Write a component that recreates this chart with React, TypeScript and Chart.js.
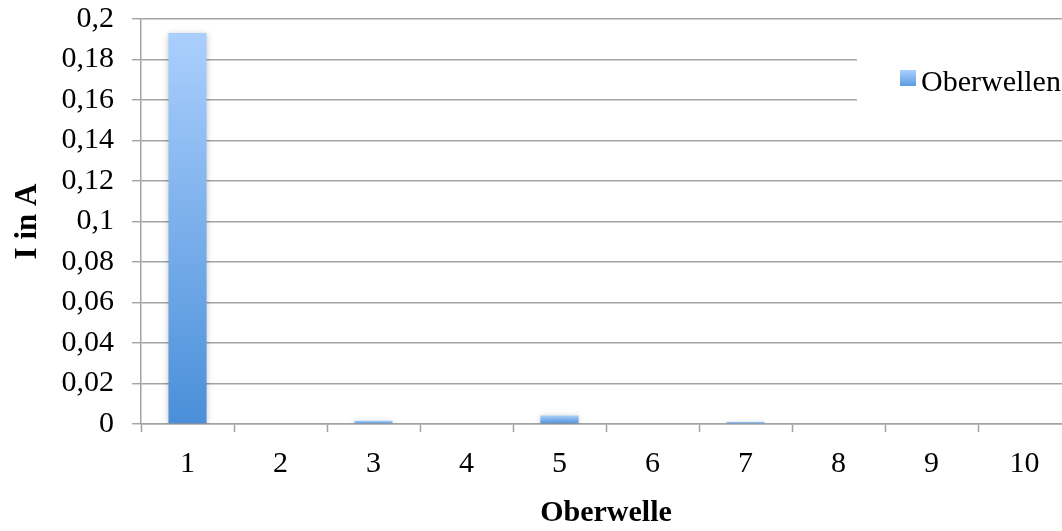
import React, { useEffect, useRef } from "react";
import { Chart, registerables } from "chart.js";

Chart.register(...registerables);

const categories = ["1", "2", "3", "4", "5", "6", "7", "8", "9", "10"];
const seriesLabel = "Oberwellen";
const seriesValues = [0.1931, 0, 0.0016, 0, 0.0042, 0, 0.0011, 0, 0, 0];
const xTitle = "Oberwelle";
const yTitle = "I in A";
const yMin = 0;
const yMax = 0.2;
const yStep = 0.02;

const FONT = "'Liberation Serif', 'Times New Roman', serif";
const GRID = "#a3a3a3";
const BAR_TOP = "#abcffd";
const BAR_BOTTOM = "#4a8fd9";

const shadowPlugin = {
  id: "barShadow",
  beforeDatasetsDraw(chart: any) {
    const c = chart.ctx;
    c.save();
    c.shadowColor = "rgba(0,0,0,0.22)";
    c.shadowBlur = 6;
    c.shadowOffsetX = 0;
    c.shadowOffsetY = 1;
  },
  afterDatasetsDraw(chart: any) {
    chart.ctx.restore();
  },
};

const legendPlugin = {
  id: "excelLegend",
  afterDatasetsDraw(chart: any) {
    const c = chart.ctx;
    const label = chart.data.datasets[0].label;
    c.save();
    c.fillStyle = "#ffffff";
    c.fillRect(857, 32, chart.width - 857, 96);
    const g = c.createLinearGradient(0, 70, 0, 86);
    g.addColorStop(0, BAR_TOP);
    g.addColorStop(1, "#5c9de3");
    c.fillStyle = g;
    c.fillRect(900, 70, 16, 16);
    c.fillStyle = "#000000";
    c.font = `30px ${FONT}`;
    c.textBaseline = "alphabetic";
    c.textAlign = "left";
    c.fillText(label, 921, 90.5);
    c.restore();
  },
};

export default function App() {
  const ref = useRef<HTMLCanvasElement>(null);

  useEffect(() => {
    if (!ref.current) return;
    const chart = new Chart(ref.current, {
      type: "bar",
      data: {
        labels: categories,
        datasets: [
          {
            label: seriesLabel,
            data: seriesValues,
            barPercentage: 0.41,
            categoryPercentage: 1,
            borderWidth: 0,
            backgroundColor: (ctx: any) => {
              const ch = ctx.chart;
              const y = ch.scales && ch.scales.y;
              if (!ch.chartArea || !y || ctx.type !== "data") return BAR_BOTTOM;
              const top = y.getPixelForValue(ctx.raw as number);
              const base = y.getPixelForValue(0);
              if (!isFinite(top) || !isFinite(base) || base - top < 0.5) return BAR_TOP;
              const g = ch.ctx.createLinearGradient(0, top, 0, base);
              g.addColorStop(0, BAR_TOP);
              g.addColorStop(1, BAR_BOTTOM);
              return g;
            },
          },
        ],
      },
      options: {
        responsive: false,
        animation: false,
        devicePixelRatio: 1,
        layout: { padding: { left: 0, right: 9, top: 19, bottom: 0 } },
        plugins: {
          legend: { display: false },
          tooltip: { enabled: false },
        },
        scales: {
          x: {
            offset: true,
            grid: {
              offset: true,
              drawOnChartArea: false,
              drawTicks: true,
              tickLength: 8,
              tickColor: GRID,
              tickWidth: 1.5,
            },
            border: { display: true, color: GRID, width: 1.5 },
            ticks: {
              color: "#000",
              padding: 14,
              maxRotation: 0,
              autoSkip: false,
              font: { family: FONT, size: 30 },
            },
            title: {
              display: true,
              text: xTitle,
              color: "#000",
              padding: { top: 0, bottom: 0 },
              font: { family: FONT, size: 30, weight: "bold" },
            },
            afterFit: (s: any) => {
              s.height = 107;
              s.paddingLeft = 0;
              s.paddingRight = 0;
            },
          },
          y: {
            min: yMin,
            max: yMax,
            ticks: {
              stepSize: yStep,
              color: "#000",
              padding: 18,
              font: { family: FONT, size: 30 },
              callback: (v: any) => String(Number(Number(v).toFixed(2))).replace(".", ","),
            },
            grid: {
              color: GRID,
              lineWidth: 1.4,
              tickLength: 9,
              drawTicks: true,
            },
            border: { display: true, color: GRID, width: 1.5 },
            title: {
              display: true,
              text: yTitle,
              color: "#000",
              padding: { top: 9, bottom: 0 },
              font: { family: FONT, size: 31, weight: "bold" },
            },
            afterFit: (s: any) => {
              s.width = 141;
              s.paddingTop = 0;
              s.paddingBottom = 0;
            },
          },
        },
      },
      plugins: [shadowPlugin, legendPlugin],
    });
    return () => chart.destroy();
  }, []);

  return (
    <div
      style={{
        position: "fixed",
        left: 0,
        top: 0,
        width: 1062,
        height: 531,
        overflow: "hidden",
        background: "#fff",
      }}
    >
      <canvas ref={ref} width={1080} height={531} style={{ width: 1080, height: 531, display: "block" }} />
    </div>
  );
}
